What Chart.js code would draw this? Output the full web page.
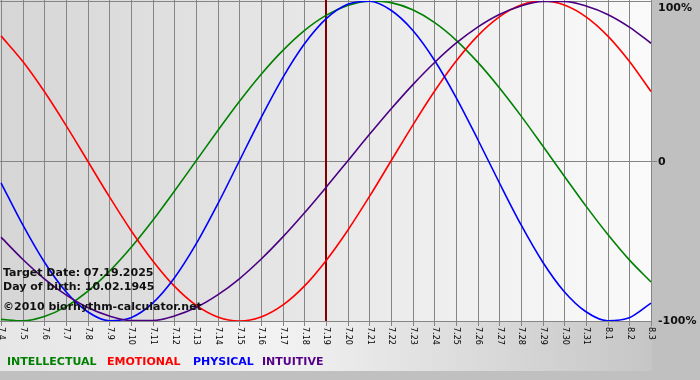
<!DOCTYPE html>
<html>
<head>
<meta charset="utf-8">
<script src="https://cdn.jsdelivr.net/npm/chart.js@4"></script>
<style>
  html, body { margin: 0; padding: 0; background: #c0c0c0; }
  #wrap { position: relative; width: 700px; height: 380px; overflow: hidden; }
  #wrap canvas { position: absolute; left: 0; top: 0; }
  .txt { position: absolute; font: bold 11px "DejaVu Sans", Verdana, sans-serif; line-height: 11px; white-space: nowrap; color: #111; }
</style>
</head>
<body>
<div id="wrap">
  <canvas id="bio" width="700" height="380"></canvas>
  <div class="txt" style="left:3px;top:267px">Target Date: 07.19.2025</div>
  <div class="txt" style="left:3px;top:281px">Day of birth: 10.02.1945</div>
  <div class="txt" style="left:3px;top:301px">©2010 biorhythm-calculator.net</div>
  <div class="txt" style="left:7px;top:356px;color:#008000">INTELLECTUAL</div>
  <div class="txt" style="left:107px;top:356px;color:#ff0000">EMOTIONAL</div>
  <div class="txt" style="left:193px;top:356px;color:#0000ff">PHYSICAL</div>
  <div class="txt" style="left:262px;top:356px;color:#550088">INTUITIVE</div>
</div>
<script>
// days shown on the x axis
const dayLabels = ['7.4','7.5','7.6','7.7','7.8','7.9','7.10','7.11','7.12','7.13','7.14','7.15',
  '7.16','7.17','7.18','7.19','7.20','7.21','7.22','7.23','7.24','7.25','7.26','7.27','7.28',
  '7.29','7.30','7.31','8.1','8.2','8.3'];
const targetDay = '7.19';

// cycle values in %, one per day
const intellectual = [-99.0,-99.9,-97.2,-91.0,-81.5,-69.0,-54.1,-37.2,-18.9,0,18.9,37.2,54.1,69.0,81.5,
  91.0,97.2,99.9,99.0,94.5,86.6,75.6,61.8,45.8,28.2,9.5,-9.5,-28.2,-45.8,-61.8,-75.6];
const emotional = [78.2,62.3,43.4,22.3,0,-22.3,-43.4,-62.3,-78.2,-90.1,-97.5,-100,-97.5,-90.1,-78.2,
  -62.3,-43.4,-22.3,0,22.3,43.4,62.3,78.2,90.1,97.5,100,97.5,90.1,78.2,62.3,43.4];
const physical = [-13.6,-39.8,-63.1,-81.7,-94.2,-99.8,-97.9,-88.8,-73.1,-52.0,-27.0,0,27.0,52.0,73.1,
  88.8,97.9,99.8,94.2,81.7,63.1,39.8,13.6,-13.6,-39.8,-63.1,-81.7,-94.2,-99.8,-97.9,-88.8];
const intuitive = [-47.6,-61.4,-73.6,-83.7,-91.6,-96.9,-99.7,-99.7,-96.9,-91.6,-83.7,-73.6,-61.4,-47.6,-32.5,
  -16.5,0,16.5,32.5,47.6,61.4,73.6,83.7,91.6,96.9,99.7,99.7,96.9,91.6,83.7,73.6];

const yTicks = [100, 0, -100];
const yTickLabels = ['100%', '0', '-100%'];

const backdrop = {
  id: 'backdrop',
  beforeDraw(chart) {
    const { ctx, chartArea: a, width, height } = chart;
    ctx.save();
    ctx.fillStyle = '#c0c0c0';
    ctx.fillRect(0, 0, width, height);
    let g = ctx.createLinearGradient(0, 0, width, 0);
    g.addColorStop(0, '#e6e6e6');
    g.addColorStop(0.4, '#f2f2f2');
    g.addColorStop(1, '#c0c0c0');
    ctx.fillStyle = g;
    ctx.fillRect(0, a.bottom, a.right + 1, 371 - a.bottom);
    g = ctx.createLinearGradient(a.left, 0, a.right, 0);
    g.addColorStop(0, '#d6d6d6');
    g.addColorStop(1, '#fafafa');
    ctx.fillStyle = g;
    ctx.fillRect(0, 0, a.right + 1, a.bottom + 1);
    ctx.restore();
  },
  beforeDatasetsDraw(chart) {
    const { ctx, chartArea: a, scales: { x, y } } = chart;
    ctx.save();
    ctx.strokeStyle = '#858585';
    ctx.lineWidth = 1;
    ctx.beginPath();
    dayLabels.forEach((d, i) => {
      const px = Math.round(x.getPixelForValue(i)) + 0.5;
      ctx.moveTo(px, 0);
      ctx.lineTo(px, a.bottom + 5);
    });
    yTicks.forEach(v => {
      const py = Math.round(y.getPixelForValue(v)) + 0.5;
      ctx.moveTo(0, py);
      ctx.lineTo(a.right + (v === 0 ? 6 : 0), py);
    });
    ctx.stroke();
    // today marker
    const tx = x.getPixelForValue(dayLabels.indexOf(targetDay));
    ctx.strokeStyle = '#800000';
    ctx.lineWidth = 2;
    ctx.beginPath();
    ctx.moveTo(tx, 0);
    ctx.lineTo(tx, a.bottom);
    ctx.stroke();
    ctx.restore();
  },
  afterDraw(chart) {
    const { ctx, chartArea: a, scales: { x, y } } = chart;
    ctx.save();
    ctx.fillStyle = '#000';
    ctx.font = '8px "DejaVu Sans", Verdana, sans-serif';
    ctx.textAlign = 'left';
    ctx.textBaseline = 'middle';
    dayLabels.forEach((d, i) => {
      ctx.save();
      ctx.translate(x.getPixelForValue(i) + 0.5, a.bottom + 6);
      ctx.rotate(Math.PI / 2);
      ctx.fillText(d, 0, 0);
      ctx.restore();
    });
    ctx.fillStyle = '#111';
    ctx.font = 'bold 11px "DejaVu Sans", Verdana, sans-serif';
    const shift = [7, 1, 0];
    yTicks.forEach((v, i) => {
      ctx.fillText(yTickLabels[i], a.right + 7, y.getPixelForValue(v) + shift[i]);
    });
    ctx.restore();
  }
};

const line = (data, color) => ({
  data, borderColor: color, borderWidth: 1.6, pointRadius: 0,
  cubicInterpolationMode: 'monotone', fill: false
});

new Chart(document.getElementById('bio'), {
  type: 'line',
  data: {
    labels: dayLabels,
    datasets: [
      line(intuitive, '#4b0082'),
      line(physical, '#0000ff'),
      line(emotional, '#ff0000'),
      line(intellectual, '#008000')
    ]
  },
  options: {
    responsive: false,
    animation: false,
    layout: { padding: { left: 1, top: 1, right: 49, bottom: 59 } },
    scales: {
      x: { type: 'category', display: false },
      y: { min: -100, max: 100, display: false }
    },
    plugins: { legend: { display: false }, tooltip: { enabled: false } }
  },
  plugins: [backdrop]
});
</script>
</body>
</html>
